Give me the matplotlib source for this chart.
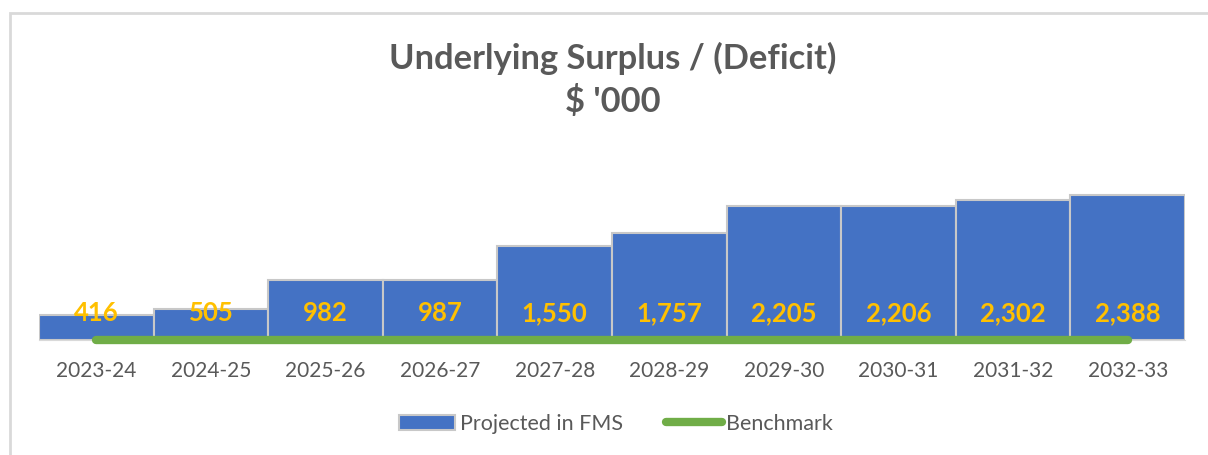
import matplotlib.pyplot as plt
import matplotlib.patches as mpatches
from matplotlib.lines import Line2D

years = ["2023-24", "2024-25", "2025-26", "2026-27", "2027-28",
         "2028-29", "2029-30", "2030-31", "2031-32", "2032-33"]
projected = [416, 505, 982, 987, 1550, 1757, 2205, 2206, 2302, 2388]
benchmark = [0, 0, 0, 0, 0, 0, 0, 0, 0, 0]

plt.rcParams['font.family'] = ['Lato', 'DejaVu Sans']

fig = plt.figure(figsize=(12.08, 4.55), dpi=100)
ax = fig.add_axes([39/1208, 1 - 340/455, (1185 - 39)/1208, 182/455])

x = list(range(len(years)))
ax.bar(x, projected, width=1.0, color="#4472C4", edgecolor="#C8C8C8", linewidth=1.5, zorder=2)
ax.plot(x, benchmark, color="#70AD47", linewidth=6, solid_capstyle="round",
        zorder=3, clip_on=False)

for xi, v in zip(x, projected):
    ax.annotate(f"{v:,}", (xi, 0), xytext=(0, 27), textcoords="offset pixels",
                ha="center", va="center", color="#FFC000", fontsize=18.5,
                fontweight="bold", zorder=4)

ax.set_xlim(-0.5, len(years) - 0.5)
ax.set_ylim(0, 3000)
ax.set_yticks([])
ax.set_xticks(x)
ax.set_xticklabels(years, color="#595959", fontsize=15)
ax.tick_params(axis="x", length=0, pad=15)
for s in ["top", "right", "left"]:
    ax.spines[s].set_visible(False)
ax.spines["bottom"].set_color("#D9D9D9")

fig.text(0.507, 1 - 58/455, "Underlying Surplus / (Deficit)", ha="center", va="center",
         fontsize=24.8, fontweight="bold", color="#595959")
fig.text(0.507, 1 - 101/455, "$ '000", ha="center", va="center",
         fontsize=24.8, fontweight="bold", color="#595959")

handles = [mpatches.Patch(facecolor="#4472C4", edgecolor="#C8C8C8", linewidth=1.5),
           Line2D([0], [0], color="#70AD47", linewidth=6, solid_capstyle="round")]
fig.legend(handles, ["Projected in FMS", "Benchmark"], loc="center",
           bbox_to_anchor=(616/1208, 1 - 424/455), ncol=2, frameon=False,
           fontsize=15.5, labelcolor="#595959", handlelength=2.6, handletextpad=0.2,
           columnspacing=2.0)

fig.add_artist(mpatches.Rectangle((10/1208, -0.1), 1.1, 1 - 13/455 + 0.1,
                                  transform=fig.transFigure, fill=False,
                                  edgecolor="#D9D9D9", linewidth=2))

fig.savefig("out.png", dpi=100, facecolor="white")
